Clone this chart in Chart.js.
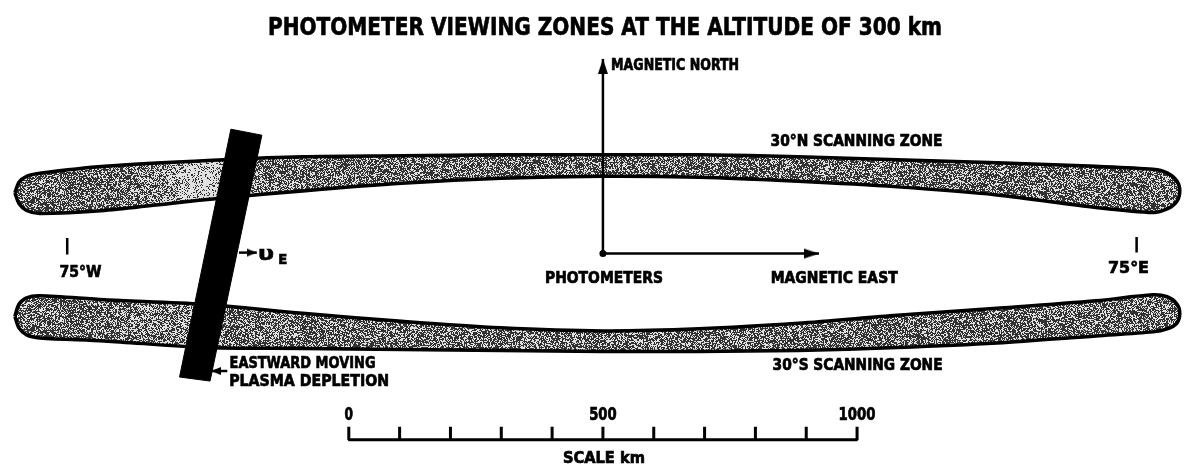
<!DOCTYPE html>
<html>
<head>
<meta charset="utf-8">
<script src="https://cdn.jsdelivr.net/npm/chart.js@4.4.1/dist/chart.umd.min.js"></script>
<style>
  html, body { margin: 0; padding: 0; background: #fff; }
  canvas { display: block; }
</style>
</head>
<body>
<canvas id="zones" width="1190" height="473"></canvas>
<script>
// map in km at 300 km altitude, photometers at (0, 0); x = magnetic east, y = magnetic north
const northZone = [
  [-1157, 121], [-1149, 142], [-1134, 154], [-1108, 160], [-981, 174], [-747, 187],
  [-591, 193], [-396, 195], [-201, 197], [0, 197], [189, 197], [384, 193], [579, 187],
  [775, 181], [970, 174], [1082, 168], [1110, 161], [1129, 145], [1135, 125],
  [1129, 104], [1110, 89], [1082, 82], [970, 92], [775, 117], [579, 133], [384, 144],
  [189, 152], [0, 154], [-201, 150], [-396, 140], [-591, 125], [-747, 111], [-851, 100],
  [-981, 86], [-1108, 80], [-1134, 86], [-1149, 100], [-1157, 121]
];
const southZone = [
  [-1157, -125], [-1149, -101], [-1134, -88], [-1108, -84], [-981, -92], [-786, -101],
  [-591, -119], [-396, -135], [-201, -148], [0, -154], [189, -150], [384, -139],
  [579, -123], [775, -109], [970, -94], [1082, -82], [1110, -86], [1129, -100],
  [1135, -119], [1129, -139], [1110, -150], [1082, -156], [970, -164], [775, -178],
  [579, -187], [384, -193], [189, -195], [0, -195], [-201, -193], [-396, -191],
  [-591, -189], [-786, -187], [-981, -174], [-1108, -168], [-1134, -162], [-1149, -148],
  [-1157, -125]
];
const depletion = [[-732, 248], [-671, 236], [-773, -254], [-833, -246], [-732, 248]];
const northArrow = [[0, 0], [0, 388]];
const eastArrow = [[0, 0], [425, 0]];
const driftArrow = [[-716, 2], [-681, 2]];
const pointerArrow = [[-739, -234], [-771, -234]];
const meridianW = [[-1054, 31], [-1054, -2]];
const meridianE = [[1050, 33], [1050, 2]];
const scaleTicks = [0, 100, 200, 300, 400, 500, 600, 700, 800, 900, 1000];
const scaleLabels = ['0', '500', '1000'];
const scaleLabelValues = [0, 500, 1000];
const scaleOrigin = -500;   // where 0 km of the scale bar sits on the map
const scaleBase = -371;
const scaleTop = -345;

const labels = [
  { text: 'PHOTOMETER VIEWING ZONES AT THE ALTITUDE OF 300 km', x: 4, y: 453, w: 674, size: 25 },
  { text: 'MAGNETIC NORTH', x: 142, y: 377, w: 128, size: 15 },
  { text: '30°N SCANNING ZONE', x: 499, y: 226, w: 172, size: 15 },
  { text: '75°W', x: -1028, y: -35, w: 42, size: 16 },
  { text: '75°E', x: 1034, y: -27, w: 41, size: 16 },
  { text: 'PHOTOMETERS', x: 2, y: -47, w: 118, size: 15 },
  { text: 'MAGNETIC EAST', x: 455, y: -47, w: 127, size: 15 },
  { text: 'EASTWARD MOVING', x: -591, y: -217, w: 146, size: 16 },
  { text: 'PLASMA DEPLETION', x: -578, y: -252, w: 160, size: 16 },
  { text: '30°S SCANNING ZONE', x: 501, y: -222, w: 170, size: 15 },
  { text: 'SCALE km', x: 2, y: -406, w: 82, size: 15 },
  { text: 'υ', x: -663, y: 2, w: 16, size: 20 },
  { text: 'E', x: -630, y: -10, w: 9, size: 14 }
];
scaleLabels.forEach((t, i) => {
  labels.push({ text: t, x: scaleOrigin + scaleLabelValues[i], y: -320, w: t.length * 9.5 - 1, size: 17 });
});

const pts = arr => arr.map(p => ({ x: p[0], y: p[1] }));

// fine dither texture; `light(px)` gives the share of white dots along the canvas
function stipple(light) {
  const w = 1190, h = 64;
  const c = document.createElement('canvas');
  c.width = w;
  c.height = h;
  const g = c.getContext('2d');
  const img = g.createImageData(w, h);
  for (let j = 0; j < h; j++) {
    for (let i = 0; i < w; i++) {
      let k = Math.imul((i * 374761393 + j * 668265263) ^ 0x5bd1e995, 1274126177);
      k ^= k >>> 13;
      k = Math.imul(k, 1274126177);
      k ^= k >>> 16;
      const v = (k & 1023) / 1024 < light(i) ? 225 : 50;
      const o = (j * w + i) * 4;
      img.data[o] = img.data[o + 1] = img.data[o + 2] = v;
      img.data[o + 3] = 255;
    }
  }
  g.putImageData(img, 0, 0);
  return g.createPattern(c, 'repeat');
}

// arrowhead image, tip at the centre so it sits on the data point
function arrowHead(len, half) {
  const c = document.createElement('canvas');
  c.width = half * 2 + 2;
  c.height = len * 2;
  const g = c.getContext('2d');
  g.fillStyle = '#000';
  g.beginPath();
  g.moveTo(c.width / 2, len);
  g.lineTo(c.width / 2 + half, 2 * len);
  g.lineTo(c.width / 2 - half, 2 * len);
  g.closePath();
  g.fill();
  return c;
}

const bigHead = arrowHead(15, 5);
const smallHead = arrowHead(10, 4);
const northTexture = stipple(px => 0.38 + 0.4 * Math.exp(-Math.pow((px - 205) / 45, 2)));
const southTexture = stipple(px => 0.38 + 0.12 * Math.exp(-Math.pow((px - 160) / 40, 2)));

function arrow(data, head, rotation, dot) {
  return {
    data: pts(data),
    borderColor: '#000',
    borderWidth: 2.5,
    tension: 0,
    pointRadius: [dot ? 3.5 : 0, 5],
    pointStyle: ['circle', head],
    pointRotation: [0, rotation],
    pointBackgroundColor: '#000',
    pointBorderColor: '#000',
    pointBorderWidth: 0
  };
}

function plainLine(data, width) {
  return {
    data: pts(data),
    borderColor: '#000',
    borderWidth: width,
    borderJoinStyle: 'bevel',
    tension: 0,
    pointRadius: 0
  };
}

function zone(data, texture) {
  return {
    data: pts(data),
    fill: 'shape',
    backgroundColor: texture,
    borderColor: '#000',
    borderWidth: 3.5,
    tension: 0.3,
    pointRadius: 0
  };
}

const scaleBar = [];
scaleTicks.forEach(t => {
  scaleBar.push([scaleOrigin + t, scaleBase], [scaleOrigin + t, scaleTop], [scaleOrigin + t, scaleBase]);
});

function drawFitted(ctx, text, cx, cy, width, size) {
  ctx.save();
  ctx.font = 'bold ' + size + 'px "DejaVu Sans"';
  const k = width / ctx.measureText(text).width;
  ctx.translate(cx, cy + size * 0.365);
  ctx.scale(k, 1);
  ctx.textAlign = 'center';
  ctx.textBaseline = 'alphabetic';
  ctx.fillStyle = '#000';
  ctx.strokeStyle = '#000';
  ctx.lineWidth = 0.7;
  ctx.fillText(text, 0, 0);
  ctx.strokeText(text, 0, 0);
  ctx.restore();
}

const textPlugin = {
  id: 'diagramText',
  afterDatasetsDraw(chart) {
    const { ctx, scales: { x, y } } = chart;
    labels.forEach(l => {
      drawFitted(ctx, l.text, x.getPixelForValue(l.x), y.getPixelForValue(l.y), l.w, l.size);
    });
  }
};

new Chart(document.getElementById('zones'), {
  type: 'line',
  data: {
    datasets: [
      arrow(northArrow, bigHead, 0, true),
      arrow(eastArrow, bigHead, 90, false),
      arrow(driftArrow, smallHead, 90, false),
      arrow(pointerArrow, smallHead, -90, false),
      plainLine(meridianW, 2.5),
      plainLine(meridianE, 2.5),
      plainLine(scaleBar, 3),
      {
        data: pts(depletion),
        fill: 'shape',
        backgroundColor: '#000',
        borderColor: '#000',
        borderWidth: 1,
        tension: 0,
        pointRadius: 0
      },
      zone(northZone, northTexture),
      zone(southZone, southTexture)
    ]
  },
  options: {
    responsive: false,
    animation: false,
    devicePixelRatio: 1,
    events: [],
    layout: { padding: 0 },
    scales: {
      x: { type: 'linear', min: -1176.4, max: 1145.2, display: false },
      y: { type: 'linear', min: -427.3, max: 495.5, display: false }
    },
    plugins: {
      legend: { display: false },
      tooltip: { enabled: false },
      title: { display: false }
    }
  },
  plugins: [textPlugin]
});
</script>
</body>
</html>
